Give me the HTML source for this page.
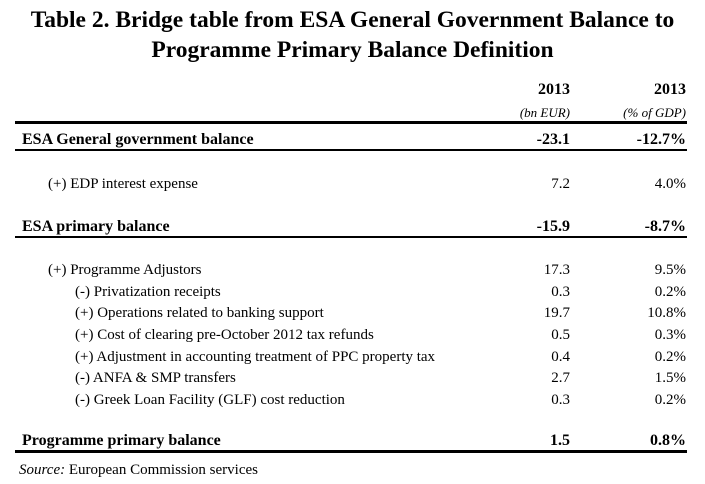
<!DOCTYPE html>
<html><head><meta charset="utf-8"><style>
body{margin:0;width:705px;height:484px;background:#fff;position:relative;font-family:"Liberation Serif",serif;color:#000;overflow:hidden}
.t{position:absolute;white-space:nowrap;line-height:20px;font-size:15px}
.b{font-weight:bold;font-size:16px}
.r1{right:135px;text-align:right}
.r2{right:19px;text-align:right}
.hr{position:absolute;left:15px;width:672px;background:#000}
h1{position:absolute;top:5px;left:0;width:705px;margin:0;text-align:center;font-size:23.5px;line-height:30px;font-weight:bold}
</style></head><body>
<h1>Table 2. Bridge table from ESA General Government Balance to<br>Programme Primary Balance Definition</h1>
<div class="t b r1" style="top:80px">2013</div>
<div class="t b r2" style="top:80px">2013</div>
<div class="t r1" style="top:103px;font-style:italic;font-size:13px">(bn EUR)</div>
<div class="t r2" style="top:103px;font-style:italic;font-size:13px">(% of GDP)</div>
<div class="hr" style="top:121px;height:3px"></div>

<div class="t b" style="left:22px;top:130px">ESA General government balance</div>
<div class="t b r1" style="top:130px">-23.1</div>
<div class="t b r2" style="top:130px">-12.7%</div>
<div class="hr" style="top:149px;height:2px"></div>

<div class="t" style="left:48px;top:174px">(+) EDP interest expense</div>
<div class="t r1" style="top:174px">7.2</div>
<div class="t r2" style="top:174px">4.0%</div>

<div class="t b" style="left:22px;top:217px">ESA primary balance</div>
<div class="t b r1" style="top:217px">-15.9</div>
<div class="t b r2" style="top:217px">-8.7%</div>
<div class="hr" style="top:236px;height:2px"></div>

<div class="t" style="left:48px;top:260px">(+) Programme Adjustors</div>
<div class="t r1" style="top:260px">17.3</div>
<div class="t r2" style="top:260px">9.5%</div>

<div class="t" style="left:75px;top:282px">(-) Privatization receipts</div>
<div class="t r1" style="top:282px">0.3</div>
<div class="t r2" style="top:282px">0.2%</div>

<div class="t" style="left:75px;top:303px">(+) Operations related to banking support</div>
<div class="t r1" style="top:303px">19.7</div>
<div class="t r2" style="top:303px">10.8%</div>

<div class="t" style="left:75px;top:325px">(+) Cost of clearing pre-October 2012 tax refunds</div>
<div class="t r1" style="top:325px">0.5</div>
<div class="t r2" style="top:325px">0.3%</div>

<div class="t" style="left:75px;top:347px">(+) Adjustment in accounting treatment of PPC property tax</div>
<div class="t r1" style="top:347px">0.4</div>
<div class="t r2" style="top:347px">0.2%</div>

<div class="t" style="left:75px;top:368px">(-) ANFA &amp; SMP transfers</div>
<div class="t r1" style="top:368px">2.7</div>
<div class="t r2" style="top:368px">1.5%</div>

<div class="t" style="left:75px;top:390px">(-) Greek Loan Facility (GLF) cost reduction</div>
<div class="t r1" style="top:390px">0.3</div>
<div class="t r2" style="top:390px">0.2%</div>

<div class="t b" style="left:22px;top:431px">Programme primary balance</div>
<div class="t b r1" style="top:431px">1.5</div>
<div class="t b r2" style="top:431px">0.8%</div>
<div class="hr" style="top:450px;height:3px"></div>

<div class="t" style="left:19px;top:460px"><i>Source:</i> European Commission services</div>
</body></html>
